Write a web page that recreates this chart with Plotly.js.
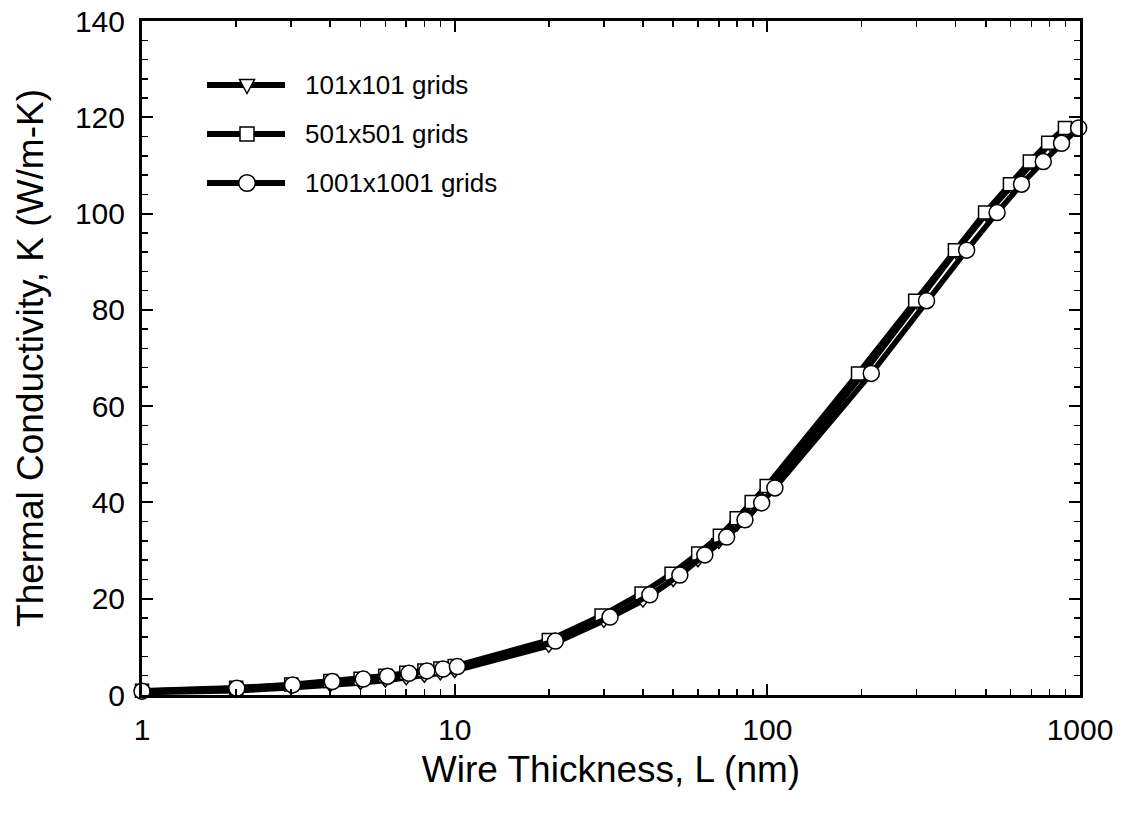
<!DOCTYPE html>
<html>
<head>
<meta charset="utf-8">
<script src="https://cdn.plot.ly/plotly-3.0.1.min.js"></script>
<style>
  html, body { margin: 0; padding: 0; background: #fff; }
  #chart { width: 1130px; height: 818px; }
</style>
</head>
<body>
<div id="chart"></div>
<script>
// ---- Data ----
const seriesNames = ['101x101 grids', '501x501 grids', '1001x1001 grids'];

const x101 = [1, 2, 3, 4, 5, 6, 7, 8, 9, 10, 20, 30, 40, 50, 60, 70, 80, 90, 100, 200, 300, 400, 500, 600, 700, 800, 900];
const k101 = [0.5, 0.9, 1.5, 2.0, 2.5, 3.0, 3.5, 4.0, 4.5, 5.0, 10.2, 15.4, 19.6, 23.9, 28.0, 31.8, 35.4, 38.8, 42.0, 66.3, 81.6, 92.0, 99.8, 105.6, 110.4, 114.4, 117.6];

const x501 = [1, 2, 3, 4, 5, 6, 7, 8, 9, 10, 20, 29.5, 39.6, 49.4, 60.1, 70.5, 79.8, 89.1, 99.5, 195, 297, 398, 497, 597, 691, 791, 895];
const k501 = [0.9, 1.5, 2.2, 2.9, 3.4, 4.0, 4.6, 5.1, 5.5, 6.0, 11.4, 16.5, 21.1, 25.2, 29.4, 33.1, 36.7, 40.1, 43.4, 66.8, 81.9, 92.4, 100.2, 106.1, 110.8, 114.7, 117.8];

const x1001 = [1, 2.01, 3.03, 4.06, 5.1, 6.1, 7.14, 8.15, 9.18, 10.2, 21, 31.4, 42.1, 52.5, 63.1, 74.1, 84.8, 95.9, 105.7, 215, 323, 434, 543, 650, 763, 873, 990];
const k1001 = [0.8, 1.4, 2.1, 2.8, 3.3, 3.9, 4.5, 5.0, 5.4, 5.9, 11.2, 16.2, 20.8, 24.9, 29.1, 32.8, 36.4, 39.9, 43.0, 66.8, 81.9, 92.4, 100.2, 106.1, 110.8, 114.6, 117.8];

const xTickVals = [1, 10, 100, 1000];
const xTickText = ['1', '10', '100', '1000'];
const xMinorVals = [2, 3, 4, 5, 6, 7, 8, 9, 20, 30, 40, 50, 60, 70, 80, 90, 200, 300, 400, 500, 600, 700, 800, 900];

// ---- Layout geometry ----
const W = 1130, H = 818;
const M = { l: 142, r: 50, t: 21, b: 123 };
const PW = W - M.l - M.r, PH = H - M.t - M.b;
const px = v => (v - M.l) / PW;          // pixel x -> paper x
const py = v => (M.t + PH - v) / PH;     // pixel y -> paper y

const FONT = 'Liberation Sans, Arial, sans-serif';
const symbols = ['triangle-down', 'square', 'circle'];
const sizes = [13, 13, 16];

const xs = [x101, x501, x1001];
const ks = [k101, k501, k1001];

const traces = seriesNames.map((name, i) => ({
  type: 'scatter',
  mode: 'lines+markers',
  name: name,
  x: xs[i],
  y: ks[i],
  cliponaxis: false,
  line: { color: '#000', width: 5.5 },
  marker: { symbol: symbols[i], size: sizes[i], color: '#fff', line: { color: '#000', width: 1.5 } },
  showlegend: false
}));

// ---- Manual legend (long line samples like the reference) ----
const legRows = [85, 134, 183];
const legX0 = 207, legX1 = 285, legXm = 247, legTextX = 303;
const shapes = [];
const annotations = [];
legRows.forEach((yy, i) => {
  shapes.push({ type: 'line', xref: 'paper', yref: 'paper', x0: px(legX0), x1: px(legX1), y0: py(yy), y1: py(yy),
    line: { color: '#000', width: 6 }, layer: 'above' });
  annotations.push({ xref: 'paper', yref: 'paper', x: px(legTextX), y: py(yy), xanchor: 'left', yanchor: 'middle',
    text: seriesNames[i], showarrow: false, font: { family: FONT, size: 26, color: '#000' } });
});
// triangle-down
{
  const yy = legRows[0];
  const p = [[legXm - 7.5, yy - 5.5], [legXm + 7.5, yy - 5.5], [legXm, yy + 8.5]];
  shapes.push({ type: 'path', xref: 'paper', yref: 'paper',
    path: 'M' + p.map(q => px(q[0]) + ',' + py(q[1])).join(' L') + ' Z',
    fillcolor: '#fff', line: { color: '#000', width: 1.5 }, layer: 'above' });
}
// square
{
  const yy = legRows[1], h = 7;
  shapes.push({ type: 'rect', xref: 'paper', yref: 'paper', x0: px(legXm - h), x1: px(legXm + h), y0: py(yy + h), y1: py(yy - h),
    fillcolor: '#fff', line: { color: '#000', width: 1.5 }, layer: 'above' });
}
// circle
{
  const yy = legRows[2], r = 8.3;
  shapes.push({ type: 'circle', xref: 'paper', yref: 'paper', x0: px(legXm - r), x1: px(legXm + r), y0: py(yy + r), y1: py(yy - r),
    fillcolor: '#fff', line: { color: '#000', width: 1.5 }, layer: 'above' });
}

const layout = {
  width: W, height: H,
  margin: M,
  paper_bgcolor: '#fff', plot_bgcolor: '#fff',
  font: { family: FONT, color: '#000' },
  showlegend: false,
  xaxis: {
    type: 'log', range: [0, 3],
    tickmode: 'array', tickvals: xTickVals, ticktext: xTickText,
    ticks: 'inside', ticklen: 11, tickwidth: 2, tickcolor: '#000',
    minor: { tickmode: 'array', tickvals: xMinorVals, ticks: 'inside', ticklen: 6, tickwidth: 1.5, tickcolor: '#000', showgrid: false },
    showline: true, linewidth: 3, linecolor: '#000', mirror: 'ticks',
    showgrid: false, zeroline: false,
    tickfont: { family: FONT, size: 30, color: '#000' },
    ticklabelstandoff: 6,
    title: { text: 'Wire Thickness, L (nm)', font: { family: FONT, size: 37, color: '#000' }, standoff: 12 }
  },
  yaxis: {
    range: [0, 140], dtick: 20, tick0: 0,
    ticks: 'inside', ticklen: 11, tickwidth: 2, tickcolor: '#000',
    minor: { dtick: 4, ticks: 'inside', ticklen: 6, tickwidth: 1.5, tickcolor: '#000', showgrid: false },
    showline: true, linewidth: 3, linecolor: '#000', mirror: 'ticks',
    showgrid: false, zeroline: false,
    tickfont: { family: FONT, size: 30, color: '#000' },
    ticklabelstandoff: 8,
    title: { text: 'Thermal Conductivity, K (W/m-K)', font: { family: FONT, size: 37, color: '#000' }, standoff: 20 }
  },
  shapes: shapes,
  annotations: annotations
};

Plotly.newPlot('chart', traces, layout, { staticPlot: true, displayModeBar: false });
</script>
</body>
</html>
